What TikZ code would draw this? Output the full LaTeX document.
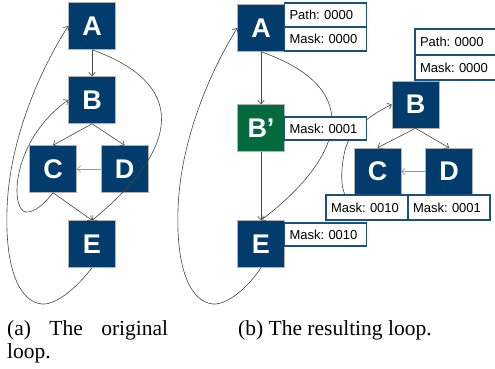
\documentclass[tikz,border=0pt]{standalone}
\usepackage{fontspec}
\setmainfont{Liberation Serif}
\setsansfont{Liberation Sans}
\usetikzlibrary{arrows.meta}
\definecolor{nblue}{RGB}{2,60,108}
\definecolor{ngreen}{RGB}{2,106,60}
\definecolor{lblue}{RGB}{28,80,126}
\definecolor{edgec}{RGB}{70,70,70}
\definecolor{edgel}{RGB}{150,150,150}
\tikzset{
 blk/.style={draw=gray!60, line width=0.5pt, fill=nblue, minimum width=47pt, minimum height=47pt, inner sep=0pt, text=white, font=\sffamily\bfseries\fontsize{27}{27}\selectfont},
 gblk/.style={blk, fill=ngreen},
 lbl/.style={draw=lblue, line width=1.1pt, fill=white, text width=72pt, inner xsep=5pt, inner ysep=0pt, minimum height=24pt, align=left, font=\sffamily\frenchspacing\fontsize{13}{13}\selectfont},
 edge/.style={draw=edgec, line width=0.6pt, -{Straight Barb[length=3.5pt,width=6.5pt]}},
 edgelight/.style={edge, draw=edgel},
 captxt/.style={font=\frenchspacing\fontsize{21.5}{23}\selectfont, inner sep=0pt, anchor=north west},
}
\begin{document}
\begin{tikzpicture}[x=1pt,y=-1pt]
\useasboundingbox (0,0) rectangle (495,368);
% ---------- panel (a) ----------
\node[blk] (A) at (92,26) {A};
\node[blk] (B) at (92,100) {B};
\node[blk] (C) at (53,169) {C};
\node[blk] (D) at (124.5,169) {D};
\node[blk] (E) at (92,244) {E};
\draw[edge] (A) -- (B);
\draw[edge] (B.south) -- (C.north);
\draw[edge] (B.south) -- (D.north);
\draw[edgelight] (D) -- (C);
\draw[edge] (C.south) -- (E.north);
\draw[edge] (A.south) .. controls (199,88) and (169,158) .. (E.north);
\draw[edge] (C.south) .. controls (45,203) and (35,213) .. (25,212)
   .. controls (10,207) and (12,140) .. (B.west);
\draw[edge] (E.south) .. controls (75,290) and (55,305) .. (42,304)
   .. controls (20,302) and (5,270) .. (7,210)
   .. controls (9,140) and (40,70) .. (A.west);
% ---------- panel (b) ----------
\node[blk] (A2) at (261,28) {A};
\node[gblk] (Bp) at (261,128) {B’};
\node[blk] (E2) at (261,244) {E};
\node[blk] (B2) at (415.5,104.5) {B};
\node[blk] (C2) at (377.5,171.5) {C};
\node[blk] (D2) at (449,171.5) {D};
\draw[edge] (A2) -- (Bp);
\draw[edge] (Bp) -- (E2);
\draw[edge] (A2.south) .. controls (370,90) and (340,160) .. (E2.north);
\draw[edge] (C2.south) .. controls (345,218) and (336,190) .. (345,150)
   .. controls (350,130) and (370,115) .. (B2.west);
\draw[edge] (E2.south) .. controls (246,290) and (226,305) .. (213,304)
   .. controls (191,302) and (176,270) .. (178,210)
   .. controls (180,140) and (211,70) .. (A2.west);
\draw[edge] (B2.south) -- (C2.north);
\draw[edge] (B2.south) -- (D2.north);
\draw[edgelight] (D2) -- (C2);
% labels
\node[lbl, minimum height=24pt] (pA) at (325.5,15) {Path: 0000};
\node[lbl, minimum height=24pt] (mA) at (325.5,39) {Mask: 0000};
\node[lbl, minimum height=23pt] (mBp) at (325.5,128.5) {Mask: 0001};
\node[lbl, minimum height=23pt] (mE) at (325.5,234.5) {Mask: 0010};
\node[lbl, minimum height=26pt] (pB) at (456,42) {Path: 0000};
\node[lbl, minimum height=25pt] (mB) at (456,67.5) {Mask: 0000};
\node[lbl, minimum height=25pt] (mC) at (367,207.5) {Mask: 0010};
\node[lbl, minimum height=25pt] (mD) at (449,207.5) {Mask: 0001};
% captions
\node[captxt, text width=161pt, align=justify] (capa) at (7,320) {(a) The original loop.};
\node[captxt] (capb) at (238,320) {(b) The resulting loop.};
\end{tikzpicture}
\end{document}
